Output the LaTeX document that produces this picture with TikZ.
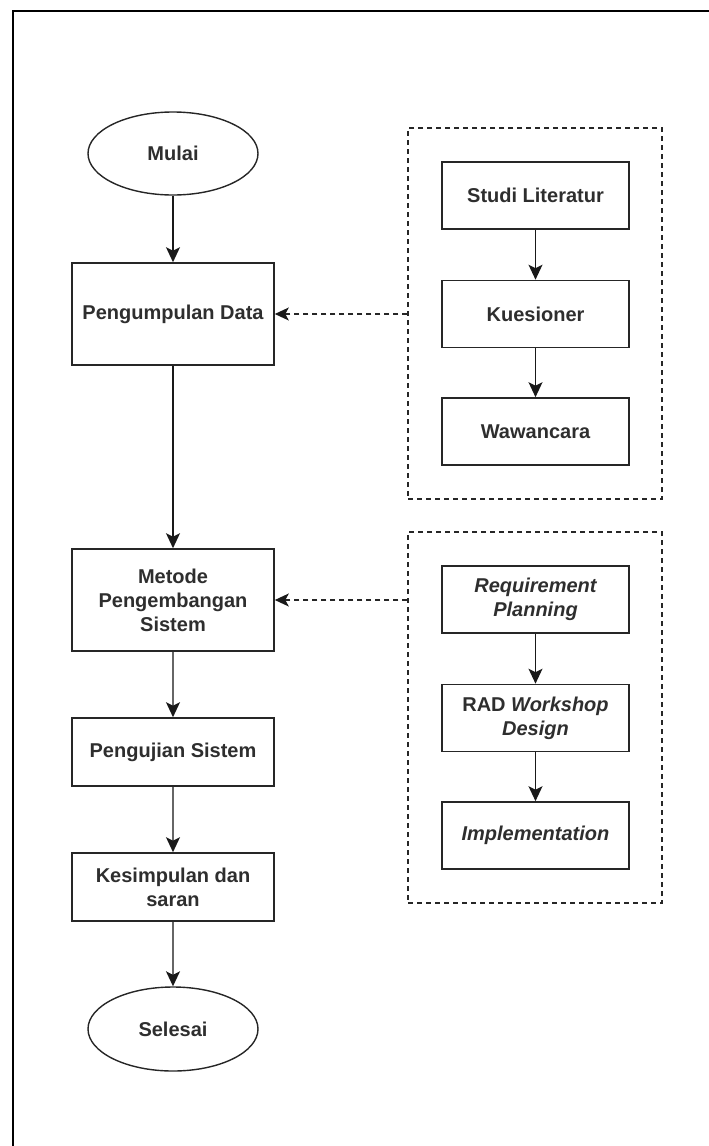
\documentclass[tikz,border=0pt]{standalone}
\usepackage{fontspec}
\setmainfont{Liberation Sans}
\usetikzlibrary{arrows.meta,shapes.geometric}

\tikzset{
  txt/.style={font=\fontsize{20}{24}\selectfont\bfseries, text=black!82, align=center},
  flowbox/.style={txt, draw=black!85, line width=1.6pt, minimum width=202pt, inner sep=0pt},
  subbox/.style={txt, draw=black!85, line width=1.6pt, minimum width=187pt, minimum height=67pt, inner sep=0pt},
  termin/.style={txt, ellipse, draw=black!85, line width=1.4pt, minimum width=170pt, minimum height=83pt, inner sep=0pt},
  groupbox/.style={draw=black!85, line width=1.4pt, dash pattern=on 5pt off 4pt, inner sep=0pt},
  tip/.style={-{Stealth[length=15pt, width=14pt, inset=3.5pt, color=black!90]}},
  arr/.style={line width=1.6pt, draw=black!90, tip},
  grayarr/.style={line width=1.6pt, draw=black!60, tip},
  darr/.style={line width=1.4pt, draw=black!85, dash pattern=on 5pt off 4pt,
               -{Stealth[length=14pt, width=13pt, inset=3.5pt, color=black!90]}},
}

\begin{document}
\begin{tikzpicture}[x=1pt, y=-1pt]
  \useasboundingbox (0,0) rectangle (709,1146);

  % frame lines along the top and left
  \draw[line width=2pt, black] (709,11) -- (12.5,11) -- (12.5,1146);

  % main flow
  \node[termin] (mulai) at (173,153.5) {Mulai};
  \node[flowbox, minimum height=102pt] (pd) at (173,314) {Pengumpulan Data};
  \node[flowbox, minimum height=102pt] (mps) at (173,600) {Metode\\Pengembangan\\Sistem};
  \node[flowbox, minimum height=68pt] (ps) at (173,752) {Pengujian Sistem};
  \node[flowbox, minimum height=68pt] (ks) at (173,887) {Kesimpulan dan\\saran};
  \node[termin, minimum height=84pt] (selesai) at (173,1029) {Selesai};

  % data collection group
  \node[groupbox, minimum width=254pt, minimum height=371pt] (grp1) at (535,313.5) {};
  \node[subbox] (studi) at (535.5,195.5) {Studi Literatur};
  \node[subbox] (kues) at (535.5,314) {Kuesioner};
  \node[subbox] (wawan) at (535.5,431.5) {Wawancara};

  % development method group
  \node[groupbox, minimum width=254pt, minimum height=371pt] (grp2) at (535,717.5) {};
  \node[subbox] (req) at (535.5,599.5) {\itshape Requirement\\\itshape Planning};
  \node[subbox] (rad) at (535.5,718) {RAD \textit{Workshop}\\\itshape Design};
  \node[subbox] (impl) at (535.5,835.5) {\itshape Implementation};

  % connectors
  \draw[arr] (mulai.south) -- (pd.north);
  \draw[arr] (pd.south) -- (mps.north);
  \draw[grayarr] (mps.south) -- (ps.north);
  \draw[grayarr] (ps.south) -- (ks.north);
  \draw[grayarr] (ks.south) -- (selesai.north);

  \draw[arr] (studi.south) -- (kues.north);
  \draw[arr] (kues.south) -- (wawan.north);
  \draw[arr] (req.south) -- (rad.north);
  \draw[arr] (rad.south) -- (impl.north);

  \draw[darr] (grp1.west |- pd.east) -- (pd.east);
  \draw[darr] (grp2.west |- mps.east) -- (mps.east);
\end{tikzpicture}
\end{document}
